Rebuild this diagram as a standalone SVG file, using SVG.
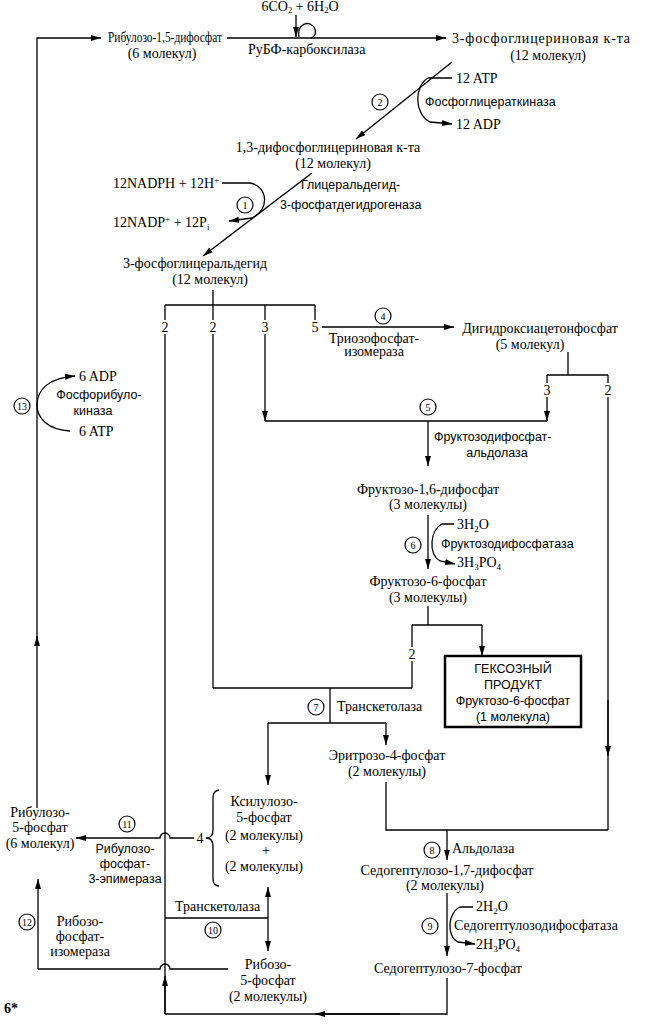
<svg xmlns="http://www.w3.org/2000/svg" width="648" height="1024" viewBox="0 0 648 1024">
<defs>
<marker id="ah" viewBox="0 0 10 6" refX="10" refY="3" markerWidth="10" markerHeight="6" markerUnits="userSpaceOnUse" orient="auto">
<path d="M0,0 L10,3 L0,6 Z" fill="#000"/>
</marker>
<style>
text{font-family:"Liberation Serif","Times New Roman",serif;font-size:14px;fill:#000}
.s{font-family:"Liberation Sans",Arial,sans-serif;font-size:12.5px}
.m{text-anchor:middle}
.n{font-family:"Liberation Serif",serif;font-size:10px;text-anchor:middle}
.c line,.c path{stroke:#000;stroke-width:1.3;fill:none}
.a{marker-end:url(#ah)}
circle.r{fill:#fff;stroke:#000;stroke-width:1.2}
.bg{fill:#fff}
</style>
</defs>
<rect width="648" height="1024" fill="#fff"/>

<g id="connectors" class="c">
<line class="a" x1="296" y1="15" x2="296" y2="37"/>
<path d="M299 37 C297 27 304 22 310 24 C317 27 317 36 311 38"/>
<line class="a" x1="227" y1="38" x2="446" y2="38"/>
<line class="a" x1="37" y1="808" x2="37" y2="636"/>
<path class="a" d="M37 640 L37 38 L101 38"/>
<path class="a" d="M70 431 C48 430 37 418 37 405 C37 390 48 378 75 376"/>
<line class="a" x1="452" y1="62" x2="356" y2="139"/>
<path class="a" d="M452 78 L428 78 C414 86 414 114 430 122 L452 124"/>
<line class="a" x1="312" y1="173" x2="203" y2="256"/>
<path class="a" d="M222 183 L250 183 C268 186 270 210 252 218 L229 221"/>
<line x1="213" y1="290" x2="213" y2="688"/>
<line x1="165" y1="305" x2="315" y2="305"/>
<line x1="165" y1="305" x2="165" y2="1014"/>
<line class="a" x1="265" y1="305" x2="265" y2="421"/>
<line x1="315" y1="305" x2="315" y2="320"/>
<line class="a" x1="322" y1="327" x2="454" y2="327"/>
<line x1="568" y1="352" x2="568" y2="375"/>
<line x1="547" y1="375" x2="608" y2="375"/>
<line class="a" x1="547" y1="375" x2="547" y2="421"/>
<line x1="608" y1="375" x2="608" y2="830"/>
<line class="a" x1="608" y1="700" x2="608" y2="756"/>
<line x1="265" y1="421" x2="547" y2="421"/>
<line class="a" x1="428" y1="421" x2="428" y2="466"/>
<line class="a" x1="428" y1="515" x2="428" y2="569"/>
<path class="a" d="M454 524 L442 524 C430 530 428 554 440 561 L455 564"/>
<line x1="428" y1="606" x2="428" y2="625"/>
<line x1="412" y1="625" x2="482" y2="625"/>
<line class="a" x1="482" y1="625" x2="482" y2="656"/>
<line x1="412" y1="625" x2="412" y2="688"/>
<line x1="213" y1="688" x2="412" y2="688"/>
<line x1="330" y1="688" x2="330" y2="723"/>
<line x1="268" y1="723" x2="386" y2="723"/>
<line class="a" x1="386" y1="723" x2="386" y2="745"/>
<line class="a" x1="268" y1="723" x2="268" y2="785"/>
<path d="M386 782 L386 830 L608 830"/>
<line class="a" x1="447" y1="830" x2="447" y2="860"/>
<line class="a" x1="447" y1="893" x2="447" y2="956"/>
<path class="a" d="M473 907 L460 907 C448 912 446 936 458 942 L475 944"/>
<path d="M447 978 L447 1014 L165 1014"/>
<line class="a" x1="400" y1="1014" x2="315" y2="1014"/>
<line class="a" x1="165" y1="1014" x2="165" y2="976"/>
<line x1="165" y1="918" x2="268" y2="918"/>
<line class="a" x1="268" y1="918" x2="268" y2="887"/>
<line class="a" x1="268" y1="918" x2="268" y2="951"/>
<path class="a" d="M194 838 L170 838 A5 5 0 0 0 160 838 L76 838"/>
<path d="M228 969 L170 969 A5 5 0 0 0 160 969 L38 969"/>
<line class="a" x1="38" y1="969" x2="38" y2="879"/>
<path d="M219 790 C212 791 213 797 213 805 L213 830 C213 836 210 838 206 838 C210 838 213 840 213 846 L213 872 C213 880 212 885 219 886"/>
</g>

<g id="labels-branch">
<rect class="bg" x="159" y="320" width="12" height="14"/>
<rect class="bg" x="207" y="320" width="12" height="14"/>
<rect class="bg" x="259" y="320" width="12" height="14"/>
<text class="m" x="165" y="332">2</text>
<text class="m" x="213" y="332">2</text>
<text class="m" x="265" y="332">3</text>
<text class="m" x="315" y="332">5</text>
<rect class="bg" x="541" y="383" width="12" height="14"/>
<rect class="bg" x="602" y="383" width="12" height="14"/>
<text class="m" x="547" y="395">3</text>
<text class="m" x="608" y="395">2</text>
<rect class="bg" x="406" y="647" width="12" height="14"/>
<text class="m" x="412" y="659">2</text>
<text class="m" x="200" y="843">4</text>
</g>

<g id="co2"><text class="m" x="300" y="11" font-size="12">6CO<tspan font-size="8.5" dy="2">2</tspan><tspan dy="-2"> + 6H</tspan><tspan font-size="8.5" dy="2">2</tspan><tspan dy="-2">O</tspan></text></g>
<g id="rubp"><text x="108" y="42" font-size="12" textLength="114" lengthAdjust="spacingAndGlyphs">Рибулозо-1,5-дифосфат</text><text class="m" x="162" y="58" font-size="13">(6 молекул)</text></g>
<g id="rubisco"><text x="248" y="54" font-size="13">РуБФ-карбоксилаза</text></g>
<g id="pga"><text x="452" y="43" textLength="178">3-фосфоглицериновая к-та</text><text class="m" x="548" y="60">(12 молекул)</text></g>

<g id="r2"><circle class="r" cx="380" cy="102" r="8"/><text class="n" x="380" y="106">2</text>
<text x="456" y="83">12 ATP</text><text class="s" x="425" y="106">Фосфоглицераткиназа</text><text x="456" y="129">12 ADP</text></g>
<g id="bpga"><text class="m" x="328" y="152">1,3-дифосфоглицериновая к-та</text><text class="m" x="333" y="168">(12 молекул)</text></g>

<g id="r1"><circle class="r" cx="245" cy="205" r="8"/><text class="n" x="245" y="209">1</text>
<text x="113" y="188" font-size="13.5">12NADPH + 12H<tspan font-size="9" dy="-5">+</tspan></text>
<text class="s" x="301" y="189" font-size="12">Глицеральдегид-</text><text class="s" x="280" y="209">3-фосфатдегидрогеназа</text>
<text x="113" y="227" font-size="13.5">12NADP<tspan font-size="9" dy="-5">+</tspan><tspan dy="5"> + 12P</tspan><tspan font-size="9" dy="3">i</tspan></text></g>
<g id="gap"><text class="m" x="195" y="268" font-size="13">3-фосфоглицеральдегид</text><text class="m" x="210" y="284">(12 молекул)</text></g>

<g id="r4"><circle class="r" cx="383" cy="316" r="8"/><text class="n" x="383" y="320">4</text>
<text class="m" x="374" y="343" font-size="13">Триозофосфат-</text><text class="m" x="374" y="356" font-size="13">изомераза</text></g>
<g id="dhap"><text class="m" x="540" y="333">Дигидроксиацетонфосфат</text><text class="m" x="530" y="349">(5 молекул)</text></g>

<g id="r5"><circle class="r" cx="428" cy="407" r="8"/><text class="n" x="428" y="411">5</text>
<text class="s" x="434" y="441" font-size="13">Фруктозодифосфат-</text><text class="s m" x="497" y="457" font-size="13">альдолаза</text></g>
<g id="fbp"><text class="m" x="428" y="494" font-size="14.5">Фруктозо-1,6-дифосфат</text><text class="m" x="428" y="509">(3 молекулы)</text></g>

<g id="r6"><circle class="r" cx="413" cy="545" r="8"/><text class="n" x="413" y="549">6</text>
<text x="457" y="529">3H<tspan font-size="9" dy="3">2</tspan><tspan dy="-3">O</tspan></text>
<text class="s" x="441" y="548" font-size="13">Фруктозодифосфатаза</text>
<text x="457" y="567">3H<tspan font-size="9" dy="3">3</tspan><tspan dy="-3">PO</tspan><tspan font-size="9" dy="3">4</tspan></text></g>
<g id="f6p"><text class="m" x="428" y="586">Фруктозо-6-фосфат</text><text class="m" x="428" y="602">(3 молекулы)</text></g>

<g id="hexose"><rect x="445" y="656" width="136" height="71" fill="#fff" stroke="#000" stroke-width="2.5"/>
<text class="s m" x="513" y="673" font-size="13.5">ГЕКСОЗНЫЙ</text><text class="s m" x="513" y="689" font-size="13.5">ПРОДУКТ</text>
<text class="s m" x="513" y="705" font-size="13">Фруктозо-6-фосфат</text><text class="s m" x="513" y="721" font-size="13">(1 молекула)</text></g>

<g id="r7"><circle class="r" cx="316" cy="707" r="8"/><text class="n" x="316" y="711">7</text>
<text x="337" y="711" font-size="13.5">Транскетолаза</text></g>
<g id="e4p"><text class="m" x="387" y="760">Эритрозо-4-фосфат</text><text class="m" x="387" y="776">(2 молекулы)</text></g>

<g id="xu5p"><text class="m" x="264" y="806">Ксилулозо-</text><text class="m" x="264" y="822">5-фосфат</text>
<text class="m" x="264" y="840">(2 молекулы)</text><text class="m" x="266" y="855">+</text><text class="m" x="264" y="871">(2 молекулы)</text></g>

<g id="r8"><circle class="r" cx="432" cy="850" r="8"/><text class="n" x="432" y="854">8</text>
<text x="452" y="853" font-size="13">Альдолаза</text></g>
<g id="sbp"><text class="m" x="447" y="875">Седогептулозо-1,7-дифосфат</text><text class="m" x="445" y="890">(2 молекулы)</text></g>

<g id="r9"><circle class="r" cx="430" cy="926" r="8"/><text class="n" x="430" y="930">9</text>
<text x="476" y="911">2H<tspan font-size="9" dy="3">2</tspan><tspan dy="-3">O</tspan></text>
<text x="454" y="930">Седогептулозодифосфатаза</text>
<text x="476" y="949">2H<tspan font-size="9" dy="3">3</tspan><tspan dy="-3">PO</tspan><tspan font-size="9" dy="3">4</tspan></text></g>
<g id="s7p"><text class="m" x="448" y="973">Седогептулозо-7-фосфат</text></g>

<g id="r10"><circle class="r" cx="213" cy="930" r="8"/><text class="n" x="213" y="934">10</text>
<text x="175" y="911">Транскетолаза</text></g>
<g id="r5p"><text class="m" x="268" y="969">Рибозо-</text><text class="m" x="268" y="985">5-фосфат</text><text class="m" x="268" y="1001">(2 молекулы)</text></g>

<g id="r11"><circle class="r" cx="127" cy="824" r="8"/><text class="n" x="127" y="828">11</text>
<text class="s m" x="125" y="853" font-size="12">Рибулозо-</text><text class="s m" x="125" y="868" font-size="12">фосфат-</text><text class="s m" x="125" y="883" font-size="12">3-эпимераза</text></g>
<g id="ru5p"><text class="m" x="40" y="817">Рибулозо-</text><text class="m" x="40" y="832">5-фосфат</text><text class="m" x="40" y="848">(6 молекул)</text></g>

<g id="r12"><circle class="r" cx="27" cy="922" r="8"/><text class="n" x="27" y="926">12</text>
<text class="m" x="80" y="926" font-size="13">Рибозо-</text><text class="m" x="80" y="941" font-size="13">фосфат-</text><text class="m" x="80" y="956" font-size="13">изомераза</text></g>

<g id="r13"><circle class="r" cx="22" cy="406" r="8"/><text class="n" x="22" y="410">13</text>
<text x="79" y="381">6 ADP</text><text class="s m" x="99" y="399" font-size="13">Фосфорибуло-</text><text class="s m" x="93" y="415" font-size="13">киназа</text><text x="79" y="436">6 ATP</text></g>

<g id="footnote"><text x="4" y="1013" font-weight="bold" font-size="13">6*</text></g>
</svg>
